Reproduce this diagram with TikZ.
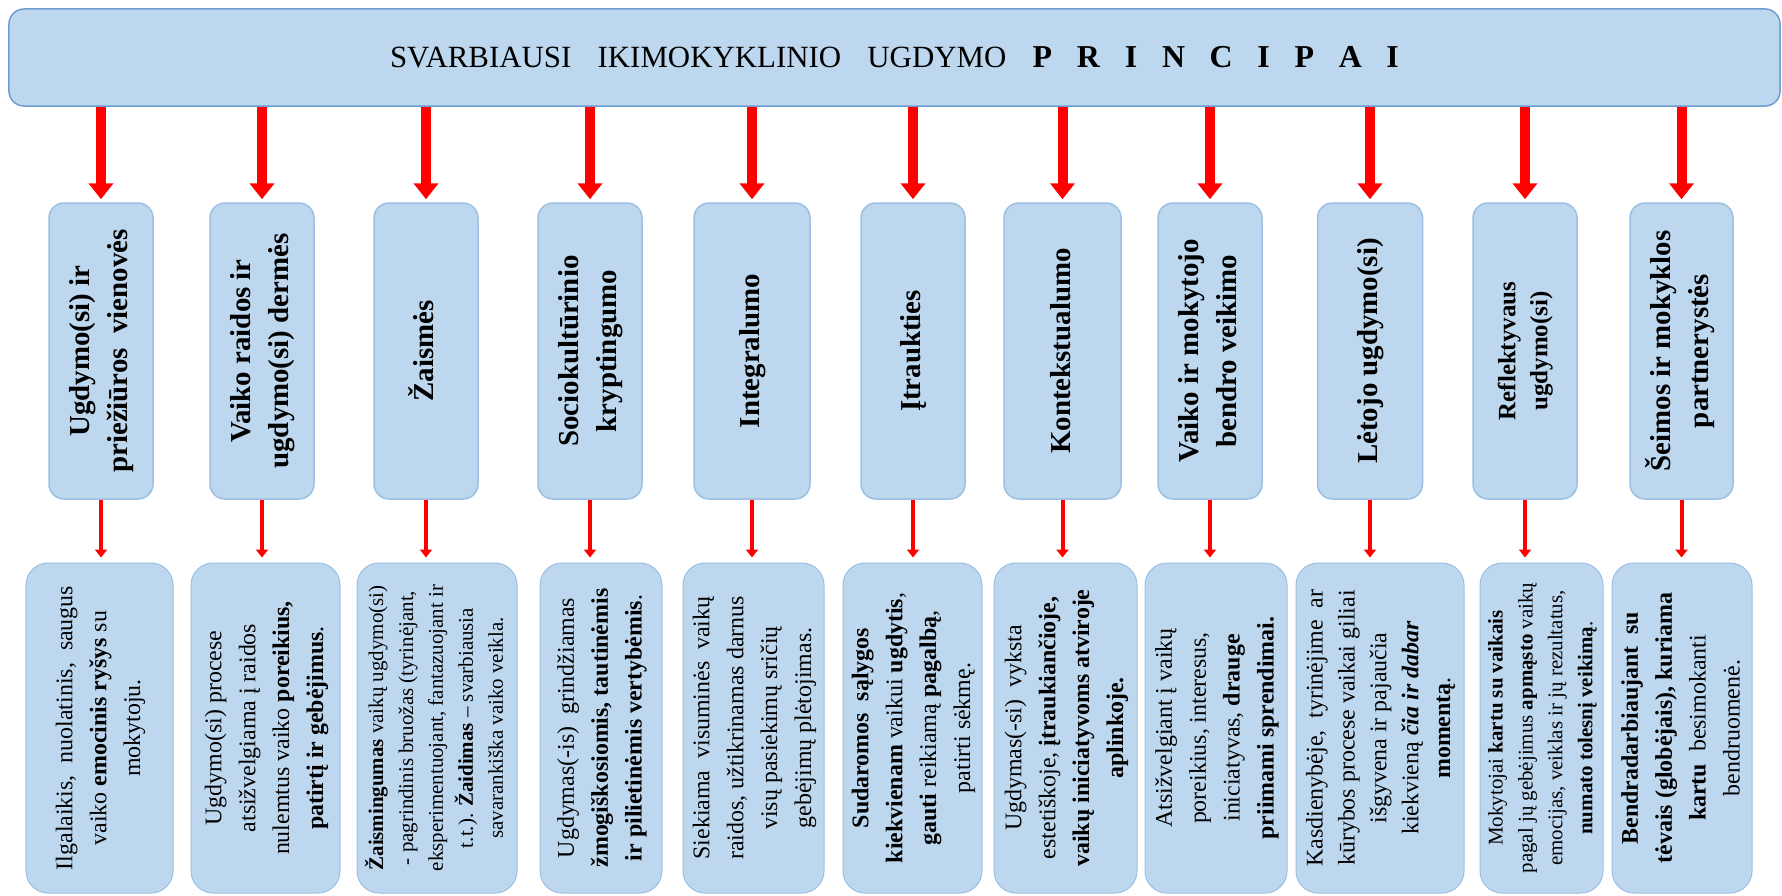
\documentclass[tikz,border=0pt]{standalone}
\usepackage{fontspec}
\setmainfont{Liberation Serif}
\usetikzlibrary{positioning, calc, arrows.meta}

\definecolor{boxfill}{RGB}{189,215,238}
\definecolor{boxline}{RGB}{155,192,228}
\definecolor{headline}{RGB}{110,155,210}

\tikzset{
	principle/.style={draw=boxline, line width=1.5bp, fill=boxfill, rounded corners=15bp, inner sep=0pt,
		minimum height=296bp, font=\fontsize{29}{38}\selectfont\bfseries},
	detail/.style={draw=boxline, line width=1bp, fill=boxfill, rounded corners=22bp, inner sep=0pt,
		minimum height=330bp, font=\fontsize{24}{34}\selectfont},
	big arrow/.style={red, line width=10bp, -{Triangle[width=24bp, length=16bp]}, shorten >=3bp},
	small arrow/.style={red, line width=4bp, -{Triangle[width=12bp, length=8bp]}, shorten >=5bp}
}
\newcommand{\uptext}[1]{\rotatebox{90}{\begin{tabular}{@{}c@{}}#1\end{tabular}}}
\newcommand{\wide}[1]{\textbf{\fontsize{32}{34}\selectfont#1}\hspace{.8em}}

\begin{document}
\begin{tikzpicture}[x=1bp, y=-1bp]
\useasboundingbox (0, 0) rectangle (1782, 895);
\node[draw=headline, line width=1.5bp, fill=boxfill, rounded corners=15bp, minimum width=1771bp, minimum height=97bp,
	font=\fontsize{31}{34}\selectfont] (head) at (894.5, 57.5)
	{SVARBIAUSI\hspace{.6em} IKIMOKYKLINIO\hspace{.6em} UGDYMO\hspace{.6em}
	\wide{P}\wide{R}\wide{I}\wide{N}\wide{C}\wide{I}\wide{P}\wide{A}\textbf{\fontsize{32}{34}\selectfont I}};
\node[principle, minimum width=104bp] (p1) at (101, 351) {\uptext{Ugdymo(si) ir\\ priežiūros\ \ vienovės}};
\node[principle, minimum width=104bp] (p2) at (262, 351) {\uptext{Vaiko raidos ir\\ ugdymo(si) dermės}};
\node[principle, minimum width=104bp] (p3) at (426, 351) {\uptext{Žaismės}};
\node[principle, minimum width=104bp] (p4) at (590, 351) {\uptext{Sociokultūrinio\\ kryptingumo}};
\node[principle, minimum width=116bp] (p5) at (752, 351) {\uptext{Integralumo}};
\node[principle, minimum width=104bp] (p6) at (913, 351) {\uptext{Įtraukties}};
\node[principle, minimum width=117bp] (p7) at (1062.5, 351) {\uptext{Kontekstualumo}};
\node[principle, minimum width=104bp] (p8) at (1210, 351) {\uptext{Vaiko ir mokytojo\\ bendro veikimo}};
\node[principle, minimum width=105bp] (p9) at (1370, 351) {\uptext{Lėtojo ugdymo(si)}};
\node[principle, minimum width=104bp, font=\fontsize{25}{32}\selectfont\bfseries] (p10) at (1525, 351)
	{\uptext{Reflektyvaus\\ ugdymo(si)}};
\node[principle, minimum width=103bp] (p11) at (1681.5, 351) {\uptext{Šeimos ir mokyklos\\ partnerystės}};
\node[detail, minimum width=147bp] (d1) at (99.5, 728)
	{\uptext{Ilgalaikis,\ \ nuolatinis,\ \ saugus\\ vaiko \textbf{emocinis ryšys} su\\ mokytoju.}};
\node[detail, minimum width=149bp] (d2) at (265.5, 728)
	{\uptext{Ugdymo(si) procese\\ atsižvelgiama\ į\ raidos\\ nulemtus vaiko \textbf{poreikius,}\\ \textbf{patirtį ir gebėjimus}.}};
\node[detail, minimum width=160bp, font=\fontsize{21}{30}\selectfont] (d3) at (437, 728)
	{\uptext{\textbf{Žaismingumas} vaikų ugdymo(si)\\ - pagrindinis bruožas (tyrinėjant,\\ eksperimentuojant, fantazuojant ir\\ t.t.). \textbf{Žaidimas} – svarbiausia\\ savarankiška vaiko veikla.}};
\node[detail, minimum width=122bp] (d4) at (601, 728)
	{\uptext{Ugdymas(-is)\ \ grindžiamas\\ \textbf{žmogiškosiomis, tautinėmis}\\ \textbf{ir pilietinėmis vertybėmis}.}};
\node[detail, minimum width=141bp] (d5) at (753.5, 728)
	{\uptext{Siekiama\ \ visuminės\ \ vaikų\\ raidos, užtikrinamas darnus\\ visų pasiekimų sričių\\ gebėjimų plėtojimas.}};
\node[detail, minimum width=139bp] (d6) at (912.5, 728)
	{\uptext{\textbf{Sudaromos\ \ sąlygos}\\ \textbf{kiekvienam} vaikui \textbf{ugdytis},\\ \textbf{gauti} reikiamą \textbf{pagalbą},\\ patirti sėkmę.}};
\node[detail, minimum width=143bp] (d7) at (1065.5, 728)
	{\uptext{Ugdymas(-si)\ \ vyksta\\ estetiškoje, \textbf{įtraukiančioje,}\\ \textbf{vaikų iniciatyvoms atviroje}\\ \textbf{aplinkoje.}}};
\node[detail, minimum width=142bp] (d8) at (1216, 728)
	{\uptext{Atsižvelgiant į vaikų\\ poreikius, interesus,\\ iniciatyvas, \textbf{drauge}\\ \textbf{priimami sprendimai.}}};
\node[detail, minimum width=168bp, font=\fontsize{24}{32}\selectfont] (d9) at (1380, 728)
	{\uptext{Kasdienybėje,\ \ tyrinėjime\ \ ar\\ kūrybos procese vaikai giliai\\ išgyvena ir pajaučia\\ kiekvieną \textbf{\textit{čia ir dabar}}\\ \textbf{momentą}.}};
\node[detail, minimum width=123bp, font=\fontsize{21}{30}\selectfont] (d10) at (1541.5, 728)
	{\uptext{Mokytojai \textbf{kartu su vaikais}\\ pagal jų gebėjimus \textbf{apmąsto} vaikų\\ emocijas, veiklas ir jų rezultatus,\\ \textbf{numato tolesnį veikimą}.}};
\node[detail, minimum width=140bp] (d11) at (1682, 728)
	{\uptext{\textbf{Bendradarbiaujant\ \ su}\\ \textbf{tėvais (globėjais), kuriama}\\ \textbf{kartu}\ \ besimokanti\\ bendruomenė.}};
\foreach \i in {1,...,11} {
	\draw[big arrow] (head.south -| p\i.north) -- (p\i.north);
	\draw[small arrow] (p\i.south) -- (p\i.south |- d\i.north);
}
\end{tikzpicture}
\end{document}
